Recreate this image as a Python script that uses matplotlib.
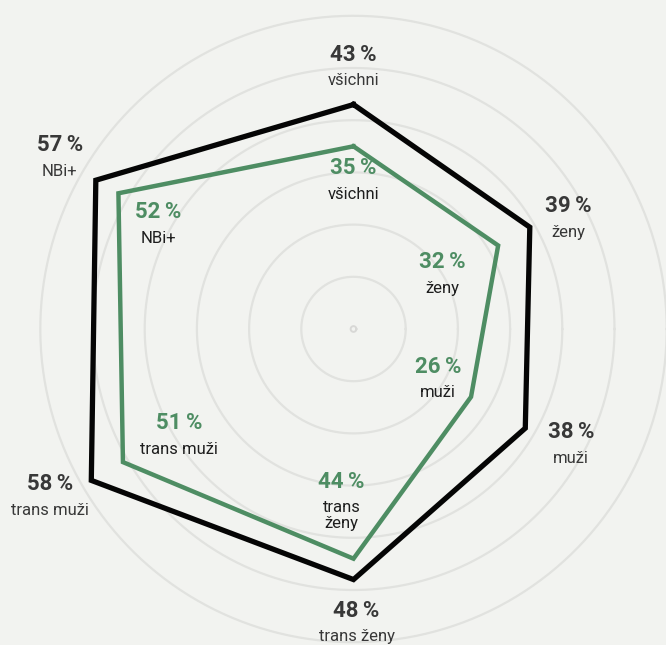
import matplotlib
matplotlib.use("Agg")
import matplotlib.pyplot as plt
import numpy as np

categories = ["všichni", "ženy", "muži", "trans ženy", "trans muži", "NBi+"]
cat_green = ["všichni", "ženy", "muži", "trans\nženy", "trans muži", "NBi+"]
black_vals = [43, 39, 38, 48, 58, 57]
green_vals = [35, 32, 26, 44, 51, 52]
grid_levels = [10, 20, 30, 40, 50, 60]

# label offsets (pixels) of the value text from each vertex
black_off = [(0, -50), (39, -21), (46, 4), (3, 31), (-41, 4), (-36, -35)]
green_off = [(0, 22), (-56, 17), (-33, -30), (-12, -77), (56, -39), (40, 19)]

BG = "#f2f3f0"
GREEN = "#4e8d63"
DARK = "#383838"
SCALE = 5.22  # px per percent

plt.rcParams['font.family'] = ['Roboto', 'DejaVu Sans']

fig = plt.figure(figsize=(6.66, 6.45), dpi=100, facecolor=BG)
ax = fig.add_axes([0, 0, 1, 1])
ax.set_facecolor(BG)
cx, cy = 353.5, 329
ax.set_xlim(-cx / SCALE, (666 - cx) / SCALE)
ax.set_ylim(-(645 - cy) / SCALE, cy / SCALE)
ax.set_aspect('equal')
ax.axis('off')

angles = np.deg2rad([90, 30, -30, -90, -150, 150])

t = np.linspace(0, 2 * np.pi, 400)
for g in grid_levels:
    ax.plot(g * np.cos(t), g * np.sin(t), color="#e1e2df", lw=1.6, zorder=1)
ax.plot(0.55 * np.cos(t), 0.55 * np.sin(t), color="#d8d8d6", lw=1.4, zorder=1)


def series(vals, color, lw):
    v = np.array(vals + vals[:1], dtype=float)
    a = np.concatenate([angles, angles[:1]])
    ax.plot(v * np.cos(a), v * np.sin(a), color=color, lw=lw,
            solid_joinstyle='miter', zorder=3)


series(black_vals, "#050505", 3.8)
series(green_vals, GREEN, 3.2)


def labels(vals, cats, offs, vcolor, ccolor):
    for v, a, c, (dx, dy) in zip(vals, angles, cats, offs):
        xy = (v * np.cos(a), v * np.sin(a))
        ax.annotate(f"{v}\u2009%", xy, xytext=(dx * 0.72, -dy * 0.72),
                    textcoords='offset points', ha='center', va='center',
                    fontsize=16, fontweight='bold', color=vcolor, zorder=4)
        gap = 34 if "\n" in c else 26
        ax.annotate(c, xy, xytext=(dx * 0.72, -(dy + gap) * 0.72),
                    textcoords='offset points', ha='center', va='center',
                    fontsize=12, color=ccolor, linespacing=1.05, zorder=4)


labels(black_vals, categories, black_off, DARK, DARK)
labels(green_vals, cat_green, green_off, GREEN, "#1e1e1e")

fig.savefig("out.png", dpi=100, facecolor=BG)
